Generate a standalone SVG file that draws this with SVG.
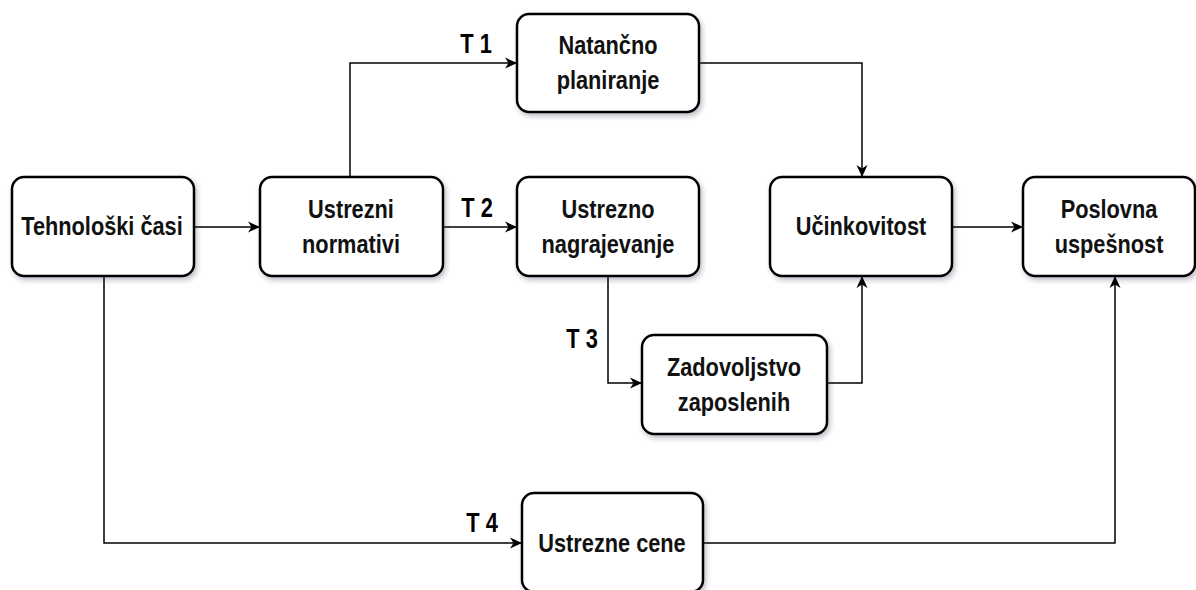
<svg xmlns="http://www.w3.org/2000/svg" width="1196" height="590" viewBox="0 0 1196 590">
<defs>
<filter id="sh" x="-10%" y="-10%" width="130%" height="130%">
<feDropShadow dx="2" dy="3" stdDeviation="2.5" flood-color="#334" flood-opacity="0.3"/>
</filter>
<marker id="arr" viewBox="0 0 12 12" refX="11" refY="6" markerWidth="12" markerHeight="12" markerUnits="userSpaceOnUse" orient="auto">
<path d="M0,0.5 L12,6 L0,11.5 L3.5,6 Z" fill="#000"/>
</marker>
</defs>
<style>
.box{fill:#fff;stroke:#000;stroke-width:2.5;filter:url(#sh)}
.lbl{font-family:"Liberation Sans",Arial,sans-serif;font-size:25px;font-weight:bold;fill:#111;text-anchor:middle}
.t{font-family:"Liberation Sans",Arial,sans-serif;font-size:28px;font-weight:bold;fill:#000;text-anchor:middle}
.c{fill:none;stroke:#000;stroke-width:1.5;marker-end:url(#arr)}
</style>
<g id="connectors">
<path class="c" d="M194,227 H259"/>
<path class="c" d="M350,177 V63 H516"/>
<path class="c" d="M443,227 H516"/>
<path class="c" d="M608,276 V383 H641"/>
<path class="c" d="M827,383 H862 V277"/>
<path class="c" d="M699,63 H862 V176"/>
<path class="c" d="M952,227 H1022"/>
<path class="c" d="M104,276 V543 H521"/>
<path class="c" d="M703,543 H1115 V277"/>
<text class="t" transform="translate(476,53) scale(0.78,1)">T 1</text>
<text class="t" transform="translate(477,217) scale(0.78,1)">T 2</text>
<text class="t" transform="translate(582,348) scale(0.78,1)">T 3</text>
<text class="t" transform="translate(482,532) scale(0.78,1)">T 4</text>
</g>
<g id="n1"><rect class="box" x="12" y="177" width="182" height="99" rx="12"/><text class="lbl" transform="translate(102,235) scale(0.87,1)">Tehnološki časi</text></g>
<g id="n2"><rect class="box" x="260" y="177" width="183" height="99" rx="12"/><text class="lbl" transform="translate(351,218) scale(0.87,1)">Ustrezni</text><text class="lbl" transform="translate(351,253) scale(0.87,1)">normativi</text></g>
<g id="n3"><rect class="box" x="517" y="14" width="182" height="98" rx="12"/><text class="lbl" transform="translate(608,54) scale(0.87,1)">Natančno</text><text class="lbl" transform="translate(608,89) scale(0.87,1)">planiranje</text></g>
<g id="n4"><rect class="box" x="517" y="177" width="182" height="99" rx="12"/><text class="lbl" transform="translate(608,218) scale(0.87,1)">Ustrezno</text><text class="lbl" transform="translate(608,253) scale(0.87,1)">nagrajevanje</text></g>
<g id="n5"><rect class="box" x="642" y="335" width="185" height="99" rx="12"/><text class="lbl" transform="translate(734,376) scale(0.87,1)">Zadovoljstvo</text><text class="lbl" transform="translate(734,411) scale(0.87,1)">zaposlenih</text></g>
<g id="n6"><rect class="box" x="770" y="177" width="182" height="99" rx="12"/><text class="lbl" transform="translate(861,235) scale(0.87,1)">Učinkovitost</text></g>
<g id="n7"><rect class="box" x="1023" y="177" width="172" height="99" rx="12"/><text class="lbl" transform="translate(1109,218) scale(0.87,1)">Poslovna</text><text class="lbl" transform="translate(1109,253) scale(0.87,1)">uspešnost</text></g>
<g id="n8"><rect class="box" x="522" y="493" width="181" height="99" rx="12"/><text class="lbl" transform="translate(612,552) scale(0.87,1)">Ustrezne cene</text></g>
</svg>
